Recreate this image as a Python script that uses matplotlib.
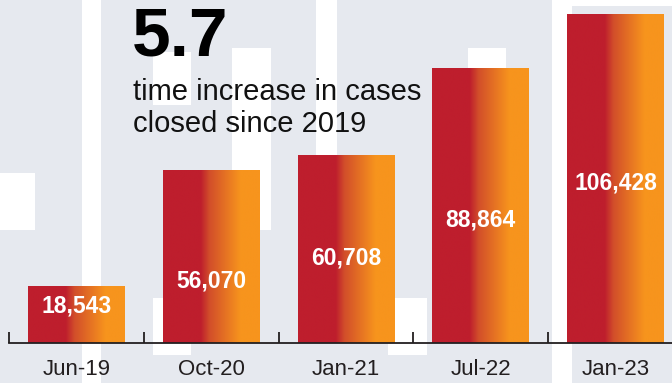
import matplotlib
matplotlib.use("Agg")
import matplotlib.pyplot as plt
import numpy as np
from matplotlib.colors import LinearSegmentedColormap
from matplotlib.patches import Rectangle

# ---- data ----
categories = ["Jun-19", "Oct-20", "Jan-21", "Jul-22", "Jan-23"]
cases_closed = [18543, 56070, 60708, 88864, 106428]
value_labels = ["18,543", "56,070", "60,708", "88,864", "106,428"]
headline = "5.7"
subtitle_lines = ["time increase in cases", "closed since 2019"]

# ---- layout ----
W, H = 672, 383
BG = "#E6E9EF"
RED = "#BE1E2D"
ORANGE = "#F7941D"
INK = "#231F20"
FONT = "Liberation Sans"

fig = plt.figure(figsize=(W / 100, H / 100), dpi=100)
fig.patch.set_facecolor(BG)


def px_rect(x0, y0, x1, y1, color="white"):
    fig.add_artist(Rectangle((x0 / W, 1 - y1 / H), (x1 - x0) / W, (y1 - y0) / H,
                             transform=fig.transFigure, facecolor=color,
                             edgecolor="none", zorder=-2))


# decorative background blocks (pixel coords, top-left origin)
px_rect(82, 0, 101, H)
px_rect(316, 0, 337, 200)
px_rect(552, 0, W, H)
px_rect(572, 6, W, H, BG)
px_rect(0, 173, 35, 230)
px_rect(153, 52, 191, 105)
px_rect(232, 48, 271, 230)
px_rect(153, 298, 191, 355)
px_rect(388, 298, 427, 355)
px_rect(468, 48, 506, 120)

ax = fig.add_axes([0, 0, 1, 1])
ax.patch.set_alpha(0)

k = 0.003092          # px per unit
base_px = 343
spacing_px = 134.75
first_px = 76.5
xlim = (-first_px / spacing_px, (W - first_px) / spacing_px)
ylim = (-(H - base_px) / k, base_px / k)

x = np.arange(len(categories))
bars = ax.bar(x, cases_closed, width=97 / spacing_px, color="none",
              edgecolor="none", zorder=1)

cmap = LinearSegmentedColormap.from_list(
    "grad", [(0.0, RED), (0.39, RED), (0.48, "#D24E2A"), (0.80, ORANGE), (1.0, ORANGE)])
grad = np.linspace(0, 1, 256).reshape(1, -1)
for b in bars:
    x0, w, h = b.get_x(), b.get_width(), b.get_height()
    im = ax.imshow(grad, cmap=cmap, extent=(x0, x0 + w, 0, h), aspect="auto",
                   interpolation="bilinear", zorder=1)
    im.set_clip_path(b)

# value labels (vertical placement in data units, layout only)
label_y = [12000, 20052, 27490, 39780, 51746]
for xi, ly, lab in zip(x, label_y, value_labels):
    ax.text(xi, ly, lab, ha="center", va="center", color="white",
            fontsize=16.5, fontweight="bold", family=FONT, zorder=4)

ax.set_xlim(*xlim)
ax.set_ylim(*ylim)

for s in ["left", "right", "top"]:
    ax.spines[s].set_visible(False)
ax.spines["bottom"].set_position(("data", 0))
ax.spines["bottom"].set_bounds(-0.5, xlim[1])
ax.spines["bottom"].set_color(INK)
ax.spines["bottom"].set_linewidth(1.3)
ax.spines["bottom"].set_zorder(3)
ax.set_yticks([])
ax.set_xticks(x)
ax.set_xticklabels(categories, family=FONT, fontsize=16, color=INK)
ax.set_xticks(np.arange(-0.5, len(categories) - 0.5), minor=True)
ax.tick_params(axis="x", which="major", length=0, pad=11.5)
ax.tick_params(axis="x", which="minor", length=8, width=1.3, color=INK, direction="in")

# headline & subtitle
fig.text(132 / W, 1 - 56 / H, headline, family=FONT, fontweight="bold",
         fontsize=50, color="black", va="baseline", ha="left")
for i, line in enumerate(subtitle_lines):
    fig.text(133 / W, 1 - (100 + 32.5 * i) / H, line, family=FONT,
             fontsize=21, color="#111111", va="baseline", ha="left")

fig.savefig("out.png", dpi=100, facecolor=BG)
